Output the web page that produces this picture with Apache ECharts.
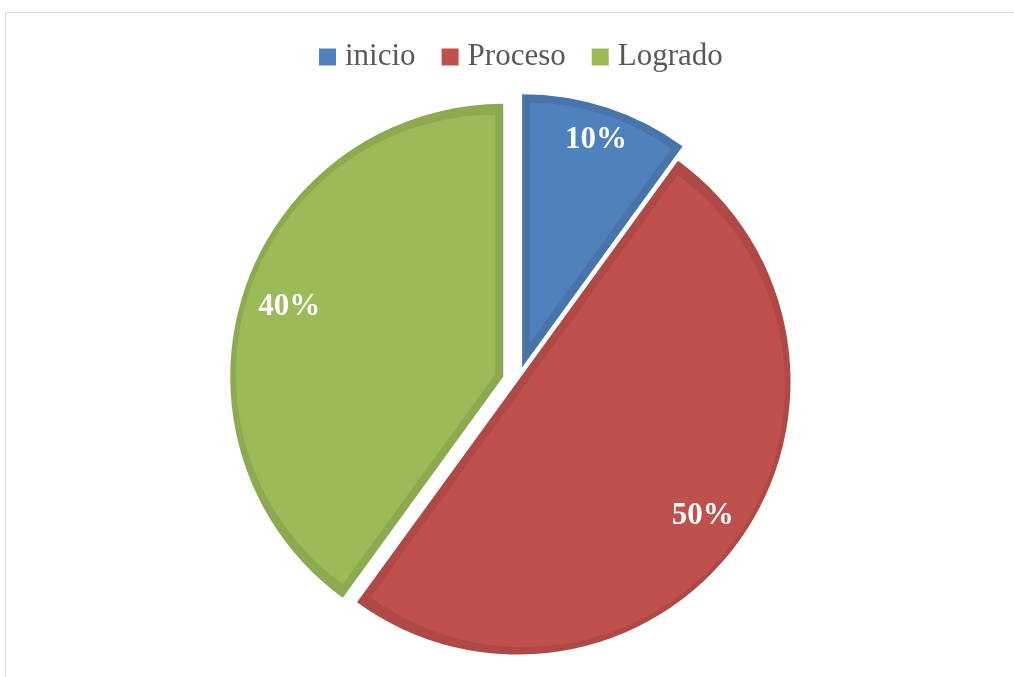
<!DOCTYPE html>
<html>
<head>
<meta charset="utf-8">
<script src="https://cdn.jsdelivr.net/npm/echarts@6/dist/echarts.min.js"></script>
<style>
  html, body { margin: 0; padding: 0; background: #fff; }
  #main { width: 1014px; height: 677px; }
</style>
</head>
<body>
<div id="main"></div>
<script>
// datos
var categories = ['inicio', 'Proceso', 'Logrado'];
var values = [10, 50, 40];

// estilo
var fills = ['#4F81BD', '#C0504D', '#9BBB59'];
var edges = ['#4874AA', '#AE4946', '#8CAA50'];
var explode = [15, 0, 15];        // separacion de cada porcion
var labelDist = [236, 226, 222];  // distancia de la etiqueta al vertice
var CX = 517.5, CY = 381.5, R = 273, BAND = 8;

var total = values.reduce(function (a, b) { return a + b; }, 0);

function pieData(k) {
    return values.map(function (v, i) {
        var item = { value: v, name: categories[i] };
        if (i === k) {
            item.selected = true;
        } else {
            item.itemStyle = { color: 'rgba(0,0,0,0)' };
            item.label = { show: false };
        }
        return item;
    });
}

function base(k, radius, offset, color) {
    return {
        type: 'pie',
        center: [CX, CY],
        radius: radius,
        startAngle: 90,
        clockwise: true,
        silent: true,
        animation: false,
        avoidLabelOverlap: false,
        selectedMode: 'single',
        selectedOffset: offset,
        emphasis: { disabled: true },
        itemStyle: { color: color, borderWidth: 0 },
        label: { show: false },
        labelLine: { show: false },
        data: pieData(k)
    };
}

var series = [];
values.forEach(function (v, k) {
    var half = Math.PI * v / total;
    var shift = BAND / Math.sin(half);
    var rin = R - BAND - shift * (1 + Math.cos(half)) / 2;
    // borde oscuro
    series.push(base(k, R, explode[k], edges[k]));
    // relleno interior
    series.push(base(k, rin, explode[k] + shift, fills[k]));
    // etiqueta
    var lab = base(k, [2 * labelDist[k] - R, R], explode[k], 'rgba(0,0,0,0)');
    lab.label = {
        show: true,
        position: 'inside',
        formatter: function (p) { return Math.round(p.percent) + '%'; },
        color: '#fff',
        fontFamily: 'Liberation Serif',
        fontWeight: 'bold',
        fontSize: 31
    };
    series.push(lab);
});

var myChart = echarts.init(document.getElementById('main'));
var option = {
    backgroundColor: '#fff',
    graphic: [{
        type: 'rect',
        silent: true,
        shape: { x: 5.5, y: 12.5, width: 1100, height: 800 },
        style: { fill: 'none', stroke: '#D9D9D9', lineWidth: 1 }
    }],
    legend: {
        left: 314,
        top: 35,
        itemWidth: 17,
        itemHeight: 17,
        itemGap: 26,
        icon: 'rect',
        selectedMode: false,
        textStyle: {
            color: '#595959',
            fontFamily: 'Liberation Serif',
            fontSize: 31,
            lineHeight: 34,
            padding: [0, 0, 0, 4]
        },
        data: categories.map(function (c, i) {
            return { name: c, itemStyle: { color: fills[i] } };
        })
    },
    series: series
};
myChart.setOption(option);
</script>
</body>
</html>
